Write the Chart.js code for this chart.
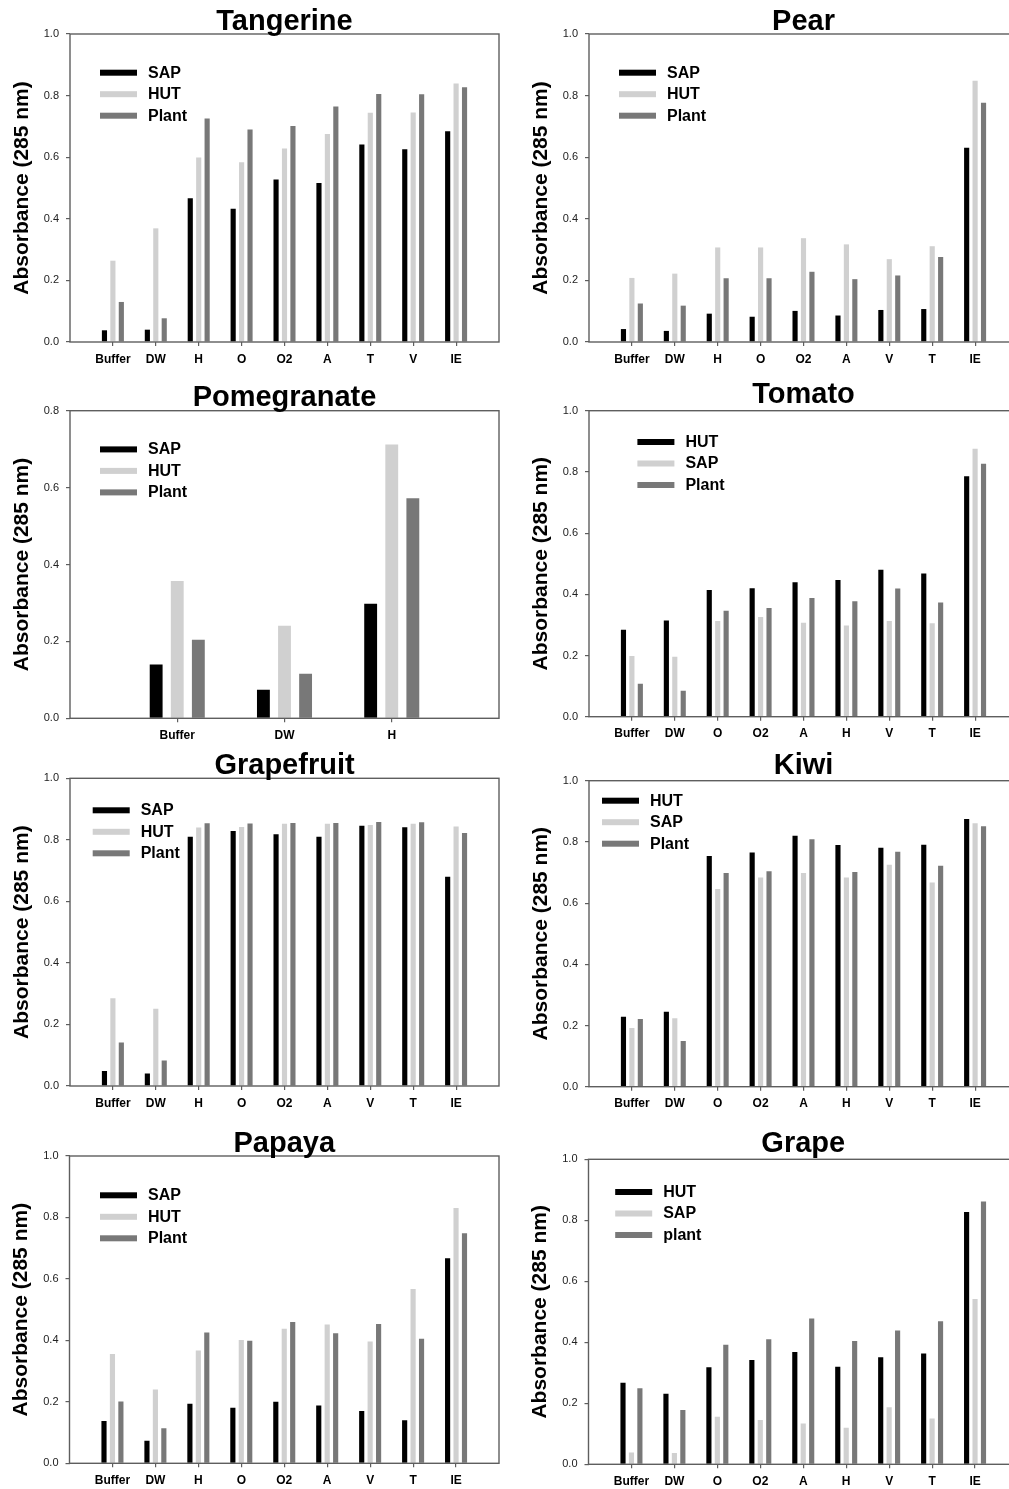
<!DOCTYPE html>
<html>
<head>
<meta charset="utf-8">
<script src="https://cdn.jsdelivr.net/npm/chart.js@4.4.1/dist/chart.umd.min.js"></script>
<style>
html, body { margin: 0; padding: 0; background: #fff; overflow: hidden; width: 1009px; height: 1489px; }
#wrap { position: relative; width: 1009px; height: 1489px; overflow: hidden; background: #fff; }
#wrap canvas { position: absolute; }
</style>
</head>
<body>
<div id="wrap"></div>
<script>
// ---------------- DATA ----------------
const yTickStep = 0.2;

const tangerineCategories = ['Buffer', 'DW', 'H', 'O', 'O2', 'A', 'T', 'V', 'IE'];
const tangerineSeries = ['SAP', 'HUT', 'Plant'];
const tangerineSAP   = [0.038, 0.040, 0.467, 0.433, 0.528, 0.516, 0.641, 0.626, 0.684];
const tangerineHUT   = [0.264, 0.369, 0.599, 0.584, 0.628, 0.675, 0.744, 0.745, 0.839];
const tangerinePlant = [0.130, 0.077, 0.726, 0.690, 0.701, 0.765, 0.805, 0.804, 0.827];

const pearCategories = ['Buffer', 'DW', 'H', 'O', 'O2', 'A', 'V', 'T', 'IE'];
const pearSeries = ['SAP', 'HUT', 'Plant'];
const pearSAP   = [0.042, 0.036, 0.092, 0.082, 0.101, 0.086, 0.104, 0.107, 0.631];
const pearHUT   = [0.208, 0.222, 0.307, 0.307, 0.337, 0.317, 0.269, 0.311, 0.848];
const pearPlant = [0.125, 0.118, 0.207, 0.207, 0.228, 0.204, 0.216, 0.276, 0.777];

const pomegranateCategories = ['Buffer', 'DW', 'H'];
const pomegranateSeries = ['SAP', 'HUT', 'Plant'];
const pomegranateSAP   = [0.140, 0.074, 0.298];
const pomegranateHUT   = [0.357, 0.241, 0.712];
const pomegranatePlant = [0.204, 0.116, 0.572];

const tomatoCategories = ['Buffer', 'DW', 'O', 'O2', 'A', 'H', 'V', 'T', 'IE'];
const tomatoSeries = ['HUT', 'SAP', 'Plant'];
const tomatoHUT   = [0.284, 0.314, 0.414, 0.420, 0.439, 0.447, 0.480, 0.468, 0.786];
const tomatoSAP   = [0.198, 0.196, 0.313, 0.326, 0.307, 0.298, 0.313, 0.305, 0.876];
const tomatoPlant = [0.108, 0.085, 0.346, 0.355, 0.388, 0.377, 0.419, 0.373, 0.827];

const grapefruitCategories = ['Buffer', 'DW', 'H', 'O', 'O2', 'A', 'V', 'T', 'IE'];
const grapefruitSeries = ['SAP', 'HUT', 'Plant'];
const grapefruitSAP   = [0.049, 0.041, 0.810, 0.829, 0.818, 0.810, 0.846, 0.841, 0.680];
const grapefruitHUT   = [0.285, 0.251, 0.840, 0.842, 0.852, 0.852, 0.848, 0.852, 0.843];
const grapefruitPlant = [0.141, 0.083, 0.854, 0.853, 0.855, 0.855, 0.858, 0.857, 0.822];

const kiwiCategories = ['Buffer', 'DW', 'O', 'O2', 'A', 'H', 'V', 'T', 'IE'];
const kiwiSeries = ['HUT', 'SAP', 'Plant'];
const kiwiHUT   = [0.229, 0.245, 0.754, 0.765, 0.820, 0.790, 0.781, 0.791, 0.875];
const kiwiSAP   = [0.192, 0.224, 0.646, 0.684, 0.698, 0.684, 0.725, 0.667, 0.861];
const kiwiPlant = [0.221, 0.149, 0.698, 0.704, 0.809, 0.702, 0.768, 0.722, 0.851];

const papayaCategories = ['Buffer', 'DW', 'H', 'O', 'O2', 'A', 'V', 'T', 'IE'];
const papayaSeries = ['SAP', 'HUT', 'Plant'];
const papayaSAP   = [0.138, 0.073, 0.194, 0.181, 0.200, 0.188, 0.170, 0.140, 0.667];
const papayaHUT   = [0.356, 0.240, 0.367, 0.401, 0.438, 0.452, 0.396, 0.567, 0.831];
const papayaPlant = [0.201, 0.114, 0.426, 0.399, 0.460, 0.423, 0.453, 0.405, 0.749];

const grapeCategories = ['Buffer', 'DW', 'O', 'O2', 'A', 'H', 'V', 'T', 'IE'];
const grapeSeries = ['HUT', 'SAP', 'plant'];
const grapeHUT   = [0.267, 0.231, 0.318, 0.342, 0.368, 0.320, 0.351, 0.363, 0.827];
const grapeSAP   = [0.039, 0.037, 0.156, 0.145, 0.134, 0.120, 0.187, 0.150, 0.542];
const grapePlant = [0.249, 0.178, 0.392, 0.410, 0.478, 0.404, 0.439, 0.469, 0.862];

const yAxisTitle = 'Absorbance (285 nm)';

// ---------------- LAYOUT / STYLE ----------------
const FONT = '"Liberation Sans", Arial, Helvetica, sans-serif';
const seriesColors = ['#000000', '#d0d0d0', '#787878'];
const axisColor = '#5e5e5e';

const panels = [
  { title: 'Tangerine', cats: tangerineCategories, names: tangerineSeries, values: [tangerineSAP, tangerineHUT, tangerinePlant], yMax: 1.0,
    area: { l: 70, t: 34, r: 499, b: 342 }, titleGap: 4, legend: { dx: 30, dy: 38.7 } },
  { title: 'Pear', cats: pearCategories, names: pearSeries, values: [pearSAP, pearHUT, pearPlant], yMax: 1.0,
    area: { l: 589, t: 34, r: 1018, b: 342 }, titleGap: 4, legend: { dx: 30, dy: 38.7 } },
  { title: 'Pomegranate', cats: pomegranateCategories, names: pomegranateSeries, values: [pomegranateSAP, pomegranateHUT, pomegranatePlant], yMax: 0.8,
    area: { l: 70, t: 410.7, r: 499, b: 718.3 }, titleGap: 4.7, legend: { dx: 30, dy: 38.7 } },
  { title: 'Tomato', cats: tomatoCategories, names: tomatoSeries, values: [tomatoHUT, tomatoSAP, tomatoPlant], yMax: 1.0,
    area: { l: 589, t: 410.7, r: 1018, b: 716.7 }, titleGap: 7.4, legend: { dx: 48.4, dy: 31.3 } },
  { title: 'Grapefruit', cats: grapefruitCategories, names: grapefruitSeries, values: [grapefruitSAP, grapefruitHUT, grapefruitPlant], yMax: 1.0,
    area: { l: 70, t: 778.3, r: 499, b: 1086 }, titleGap: 4.3, legend: { dx: 22.7, dy: 32 } },
  { title: 'Kiwi', cats: kiwiCategories, names: kiwiSeries, values: [kiwiHUT, kiwiSAP, kiwiPlant], yMax: 1.0,
    area: { l: 589, t: 780.7, r: 1018, b: 1086.7 }, titleGap: 6.4, legend: { dx: 13, dy: 20 } },
  { title: 'Papaya', cats: papayaCategories, names: papayaSeries, values: [papayaSAP, papayaHUT, papayaPlant], yMax: 1.0,
    area: { l: 69.5, t: 1156, r: 499, b: 1463.3 }, titleGap: 3.7, legend: { dx: 30.5, dy: 39.3 } },
  { title: 'Grape', cats: grapeCategories, names: grapeSeries, values: [grapeHUT, grapeSAP, grapePlant], yMax: 1.0,
    area: { l: 588.5, t: 1159.3, r: 1018, b: 1464.3 }, titleGap: 7.6, legend: { dx: 26.7, dy: 32.7 } }
];

// ---------------- PLUGINS ----------------
const framePlugin = {
  id: 'frame',
  afterDatasetsDraw(chart) {
    const { ctx, chartArea: a } = chart;
    ctx.save();
    ctx.strokeStyle = axisColor;
    ctx.lineWidth = 1.4;
    ctx.strokeRect(a.left, a.top, a.right - a.left, a.bottom - a.top);
    ctx.restore();
  }
};

const panelTitlePlugin = {
  id: 'panelTitle',
  afterDraw(chart, args, opts) {
    const { ctx, chartArea: a } = chart;
    ctx.save();
    ctx.font = 'bold 29px ' + FONT;
    ctx.fillStyle = '#000';
    ctx.textAlign = 'center';
    ctx.textBaseline = 'alphabetic';
    ctx.fillText(opts.text, (a.left + a.right) / 2, a.top - opts.gap);
    ctx.restore();
  }
};

const boxLegendPlugin = {
  id: 'boxLegend',
  afterDraw(chart, args, opts) {
    const { ctx, chartArea: a } = chart;
    ctx.save();
    ctx.font = 'bold 16px ' + FONT;
    ctx.textBaseline = 'middle';
    ctx.textAlign = 'left';
    chart.data.datasets.forEach((ds, i) => {
      const x = a.left + opts.dx;
      const y = a.top + opts.dy + i * 21.5;
      ctx.fillStyle = ds.backgroundColor;
      ctx.fillRect(x, y - 3, 37, 6);
      ctx.fillStyle = '#000';
      ctx.fillText(ds.label, x + 48, y + 0.5);
    });
    ctx.restore();
  }
};

// ---------------- BUILD ----------------
const wrap = document.getElementById('wrap');
const Y_AXIS_W = 70;
const X_AXIS_H = 30;
const TOP_SPACE = 44;

panels.forEach(p => {
  const a = p.area;
  const canvasLeft = Math.round(a.l) - Y_AXIS_W;
  const canvasTop = Math.round(a.t) - TOP_SPACE;
  const canvasW = Math.ceil(a.r) + 3 - canvasLeft;   // right-hand plots run past the page edge and are clipped by #wrap
  const canvasH = Math.ceil(a.b - canvasTop + X_AXIS_H);
  const padLeft = a.l - Y_AXIS_W - canvasLeft;
  const padTop = a.t - canvasTop;
  const padRight = canvasW - (a.r - canvasLeft);
  const padBottom = canvasH - (a.b - canvasTop) - X_AXIS_H;

  const cv = document.createElement('canvas');
  cv.width = canvasW;
  cv.height = canvasH;
  cv.style.width = canvasW + 'px';
  cv.style.height = canvasH + 'px';
  cv.style.left = canvasLeft + 'px';
  cv.style.top = canvasTop + 'px';
  wrap.appendChild(cv);

  const labels = [''].concat(p.cats, ['']);
  const n = labels.length;
  const datasets = p.values.map((vals, i) => ({
    label: p.names[i],
    data: [null].concat(vals, [null]),
    backgroundColor: seriesColors[i],
    borderWidth: 0,
    categoryPercentage: 0.59,
    barPercentage: 0.61
  }));

  new Chart(cv, {
    type: 'bar',
    data: { labels, datasets },
    plugins: [framePlugin, panelTitlePlugin, boxLegendPlugin],
    options: {
      responsive: false,
      animation: false,
      events: [],
      devicePixelRatio: 1,
      layout: { padding: { left: padLeft, top: padTop, right: padRight, bottom: padBottom } },
      plugins: {
        legend: { display: false },
        title: { display: false },
        tooltip: { enabled: false },
        panelTitle: { text: p.title, gap: p.titleGap },
        boxLegend: p.legend
      },
      scales: {
        x: {
          type: 'category',
          offset: false,
          border: { display: false },
          grid: {
            offset: false,
            drawOnChartArea: false,
            drawTicks: true,
            tickLength: 4,
            lineWidth: 1.2,
            color: ctx => (ctx.index === 0 || ctx.index === n - 1) ? 'rgba(0,0,0,0)' : axisColor
          },
          ticks: {
            autoSkip: false,
            maxRotation: 0,
            minRotation: 0,
            padding: 6,
            color: '#000',
            font: { family: FONT, size: 12, weight: 'bold' }
          },
          afterFit(scale) {
            scale.height = X_AXIS_H;
            scale.paddingLeft = 0;
            scale.paddingRight = 0;
          }
        },
        y: {
          min: 0,
          max: p.yMax,
          border: { display: false },
          grid: {
            drawOnChartArea: false,
            drawTicks: true,
            tickLength: 4,
            lineWidth: 1.2,
            color: axisColor
          },
          ticks: {
            stepSize: yTickStep,
            padding: 7,
            color: '#222',
            font: { family: FONT, size: 11 },
            callback: v => Number(v).toFixed(1)
          },
          title: {
            display: true,
            text: yAxisTitle,
            color: '#000',
            font: { family: FONT, size: 21, weight: 'bold' },
            padding: { top: 9.5, bottom: 0 }
          },
          afterFit(scale) { scale.width = Y_AXIS_W; }
        }
      }
    }
  });
});
</script>
</body>
</html>
